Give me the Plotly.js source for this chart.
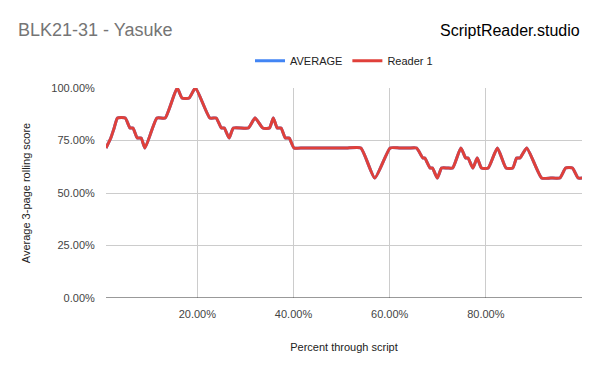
<!DOCTYPE html>
<html>
<head>
<meta charset="utf-8">
<script src="https://cdn.plot.ly/plotly-3.0.1.min.js"></script>
<style>html,body{margin:0;padding:0;background:#fff}#chart{width:600px;height:371px}</style>
</head>
<body>
<div id="chart"></div>
<script>
// Percent through script (x) and average 3-page rolling score in % (y)
const percentThrough = [1.0, 2.0, 2.7, 3.4, 5.0, 6.0, 6.6, 7.5, 8.3, 9.1, 11.6, 13.3, 15.8, 16.8, 18.3, 19.6,
  22.6, 23.9, 25.0, 25.6, 26.6, 27.5, 30.6, 32.0, 33.6, 35.0, 35.8, 36.6, 37.4, 38.3, 39.1, 40.1,
  42.0, 45.0, 48.0, 51.0, 54.0, 56.9, 60.1, 62.0, 64.0, 65.6, 66.9, 67.3, 68.4, 68.9, 69.9, 70.8, 72.0, 73.1, 74.8, 75.8, 76.3, 77.3, 78.2,
  79.1, 80.5, 82.4, 84.2, 85.6, 86.4, 87.1, 88.5, 91.6, 93.5, 95.4, 96.6, 98.0, 99.2, 100.0];
const reader1 = [71.43, 76.19, 80.95, 85.71, 85.71, 80.95, 80.95, 76.19, 76.19, 71.43, 85.71, 85.71, 100, 95.24, 95.24, 100,
  85.71, 85.71, 80.95, 80.95, 76.19, 80.95, 80.95, 85.71, 80.95, 80.95, 85.71, 80.95, 80.95, 76.19, 76.19, 71.43,
  71.43, 71.43, 71.43, 71.43, 71.43, 57.14, 71.43, 71.43, 71.43, 71.43, 66.67, 66.67, 61.90, 61.90, 57.14, 61.90, 61.90, 61.90, 71.43, 66.67, 66.67, 61.90, 66.67,
  61.90, 61.90, 71.43, 61.90, 61.90, 66.67, 66.67, 71.43, 57.14, 57.14, 57.14, 61.90, 61.90, 57.14, 57.14];
const average = reader1.slice();
const xTickVals = [20, 40, 60, 80, 100];
const xTickText = ["20.00%", "40.00%", "60.00%", "80.00%", ""];
const yTickVals = [0, 25, 50, 75, 100];
const yTickText = ["0.00%", "25.00%", "50.00%", "75.00%", "100.00%"];

const font = "Arial, 'Liberation Sans', sans-serif";
const traces = [
  {x: percentThrough, y: average, name: "AVERAGE", type: "scatter", mode: "lines",
   line: {color: "#4285F4", width: 3, shape: "spline", smoothing: 0.5}, cliponaxis: false},
  {x: percentThrough, y: reader1, name: "Reader 1", type: "scatter", mode: "lines",
   line: {color: "#E0403A", width: 3, shape: "spline", smoothing: 0.5}, cliponaxis: false}
];
const layout = {
  width: 600, height: 371,
  margin: {l: 106, r: 18, t: 88, b: 73},
  paper_bgcolor: "#fff", plot_bgcolor: "#fff",
  font: {family: font, size: 11, color: "#222"},
  title: {text: "BLK21-31 - Yasuke", x: 0.03, xanchor: "left", y: 0.92, yanchor: "middle",
    font: {family: font, size: 18, color: "#757575"}},
  showlegend: true,
  legend: {orientation: "h", x: 0.5, xanchor: "center", y: 1.13, yanchor: "middle",
    font: {family: font, size: 11, color: "#222"}, traceorder: "normal"},
  annotations: [{text: "ScriptReader.studio", xref: "paper", yref: "paper", x: 1.0, xanchor: "right",
    y: 1.275, yanchor: "middle", showarrow: false, font: {family: font, size: 16, color: "#000"}}],
  xaxis: {range: [1, 100], tickvals: xTickVals, ticktext: xTickText, showgrid: true, gridcolor: "#cccccc",
    zeroline: false, showline: false, ticks: "outside", ticklen: 6, tickcolor: "rgba(0,0,0,0)",
    tickfont: {size: 11, color: "#444"},
    title: {text: "Percent through script", font: {size: 11, color: "#222"}, standoff: 24}},
  yaxis: {range: [0, 100], tickvals: yTickVals, ticktext: yTickText, showgrid: true, gridcolor: "#cccccc",
    zeroline: false, showline: false, ticks: "outside", ticklen: 8, tickcolor: "rgba(0,0,0,0)",
    tickfont: {size: 11, color: "#444"},
    title: {text: "Average 3-page rolling score", font: {size: 11, color: "#222"}, standoff: 18}},
  shapes: [{type: "line", xref: "paper", yref: "y", x0: 0, x1: 1, y0: 0, y1: 0, line: {color: "#333", width: 1}}]
};
Plotly.newPlot("chart", traces, layout, {displayModeBar: false, staticPlot: true});
</script>
</body>
</html>
